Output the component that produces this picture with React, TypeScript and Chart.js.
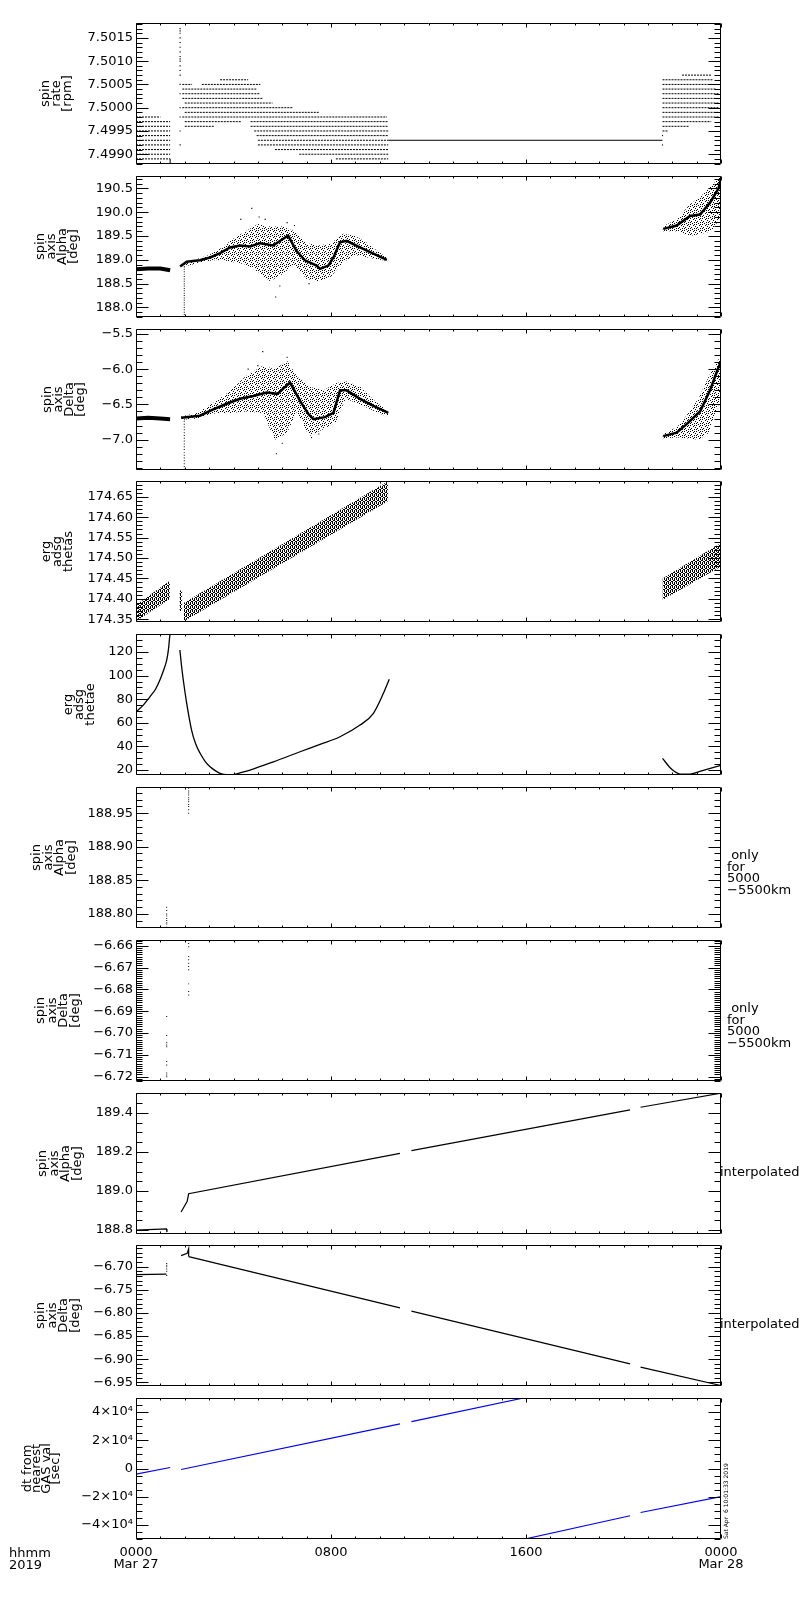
import { useEffect, useRef } from "react";
import { Chart, registerables } from "chart.js";

Chart.register(...registerables);

const FONT = "'DejaVu Sans', 'Liberation Sans', sans-serif";
Chart.defaults.font.family = FONT;
Chart.defaults.color = "#000";

type XY = [number, number];
type Row = [number, number, number]; // level, start hour, end hour
type Env = [number, number, number]; // hour, low, high
type Pt = { x: number; y: number | null };

// ---- time axis (hours after 0000 UT Mar 27 2019) ----
const xMajorHours = [0, 8, 16, 24];
const xMinorHours = [1, 2, 3, 4, 5, 6, 7, 9, 10, 11, 12, 13, 14, 15, 17, 18, 19, 20, 21, 22, 23];
const xTickLabels = [["0000", "Mar 27"], "0800", "1600", ["0000", "Mar 28"]];

// ---- panel 1: spin rate [rpm] (quantised rows) ----
const spinRateTicks = [7.499, 7.4995, 7.5, 7.5005, 7.501, 7.5015];
const spinRateLabels = ["7.4990", "7.4995", "7.5000", "7.5005", "7.5010", "7.5015"];
const spinRateRows: Row[] = [
  [7.4998, 0, 1.0], [7.4997, 0, 1.4], [7.4996, 0, 1.4], [7.4995, 0, 1.4], [7.4994, 0, 1.4],
  [7.4993, 0, 1.4], [7.4992, 0, 1.4], [7.4991, 0, 1.4], [7.499, 0, 1.4], [7.4989, 0, 1.4],
  [7.5006, 3.45, 4.6], [7.5005, 1.9, 2.3], [7.5005, 2.7, 5.1], [7.5004, 1.9, 4.95], [7.5003, 1.9, 5.1],
  [7.5002, 1.9, 5.2], [7.5001, 2.0, 5.6], [7.5, 1.9, 6.45], [7.4999, 2.0, 7.5], [7.4998, 1.9, 10.3],
  [7.4997, 2.0, 4.3], [7.4997, 4.7, 10.35], [7.4996, 2.0, 3.2], [7.4996, 4.7, 10.35], [7.4995, 4.85, 10.35],
  [7.4994, 4.95, 10.35], [7.4993, 5.0, 10.35], [7.4992, 5.0, 10.35], [7.4991, 5.7, 10.35], [7.499, 6.7, 10.35],
  [7.4989, 8.2, 10.35],
  [7.5007, 22.4, 23.6], [7.5006, 21.6, 23.65], [7.5005, 21.6, 23.65], [7.5004, 21.6, 23.8], [7.5003, 21.6, 23.9],
  [7.5002, 21.6, 23.9], [7.5001, 21.6, 23.9], [7.5, 21.6, 23.9], [7.4999, 21.6, 23.9], [7.4998, 21.6, 23.9],
  [7.4997, 21.6, 23.6], [7.4996, 21.6, 22.7], [7.4995, 21.6, 21.85],
];
const spinRateDrop: XY[] = [[1.4, 7.4989], [1.6, 7.48887], [1.8, 7.48881]];
const spinRateHold: XY[] = [[10.35, 7.4993], [21.6, 7.4993]];
const spinRateSpike = [7.4992, 7.4995, 7.4998, 7.5, 7.5003, 7.5005, 7.5007, 7.5008, 7.5009, 7.501, 7.50105,
  7.5011, 7.5012, 7.5013, 7.5014, 7.5015, 7.5016, 7.50165, 7.5017];
const spinRateRightDots = [7.4994, 7.4992];

// ---- panel 2: spin axis Alpha [deg] ----
const alphaTicks = [188.0, 188.5, 189.0, 189.5, 190.0, 190.5];
const alphaLabels = ["188.0", "188.5", "189.0", "189.5", "190.0", "190.5"];
const alphaLeft: XY[] = [[0, 188.8], [0.5, 188.82], [1.0, 188.82], [1.4, 188.78]];
const alphaCore: XY[] = [[1.81, 188.86], [2.08, 188.96], [2.62, 188.99], [3.04, 189.05], [3.45, 189.14], [3.86, 189.26],
  [4.27, 189.3], [4.68, 189.28], [5.09, 189.35], [5.63, 189.3], [6.24, 189.51], [6.58, 189.19], [6.93, 188.99],
  [7.41, 188.88], [7.55, 188.81], [7.89, 188.88], [8.1, 189.05], [8.37, 189.37], [8.64, 189.4], [9.19, 189.26],
  [9.74, 189.13], [10.29, 189.0]];
const alphaCoreRight: XY[] = [[21.63, 189.65], [22.18, 189.72], [22.73, 189.92], [23.14, 189.95], [23.55, 190.2],
  [23.9, 190.5], [24, 190.7]];
const alphaSpread: Env[] = [[1.85, 188.84, 188.9], [2.5, 188.93, 189.02], [3.0, 188.98, 189.1], [3.5, 189.0, 189.25],
  [4.0, 188.95, 189.45], [4.5, 188.9, 189.6], [5.0, 188.75, 189.75], [5.5, 188.55, 189.7], [6.0, 188.7, 189.7],
  [6.5, 188.9, 189.6], [7.0, 188.6, 189.35], [7.5, 188.55, 189.3], [8.0, 188.65, 189.35], [8.5, 188.95, 189.55],
  [9.0, 189.1, 189.5], [9.5, 189.05, 189.35], [10.0, 189.0, 189.15], [10.35, 188.97, 189.03]];
const alphaSpreadRight: Env[] = [[21.6, 189.6, 189.7], [22.2, 189.6, 189.85], [22.7, 189.5, 190.15],
  [23.2, 189.55, 190.35], [23.6, 189.6, 190.55], [24, 189.9, 190.76]];
const alphaDropout = [188.85, 188.8, 188.75, 188.7, 188.65, 188.6, 188.55, 188.5, 188.45, 188.4, 188.35, 188.3,
  188.25, 188.2, 188.15, 188.1, 188.05, 188.0, 187.95, 187.9, 187.85];
const alphaOutliers: XY[] = [[4.75, 190.08], [5.73, 188.22], [5.3, 189.85], [6.2, 189.78], [5.9, 188.45],
  [4.3, 189.85], [5.05, 189.9], [6.5, 189.72], [7.1, 188.5]];

// ---- panel 3: spin axis Delta [deg] ----
const deltaTicks = [-7.0, -6.5, -6.0, -5.5];
const deltaLabels = ["\u22127.0", "\u22126.5", "\u22126.0", "\u22125.5"];
const deltaLeft: XY[] = [[0, -6.7], [0.5, -6.69], [1.0, -6.7], [1.4, -6.71]];
const deltaCore: XY[] = [[1.85, -6.69], [2.62, -6.66], [3.17, -6.57], [3.72, -6.49], [4.27, -6.42], [4.81, -6.38],
  [5.36, -6.33], [5.8, -6.35], [6.32, -6.19], [6.73, -6.45], [7.08, -6.64], [7.28, -6.71], [7.75, -6.68],
  [8.1, -6.62], [8.37, -6.3], [8.64, -6.3], [9.19, -6.42], [9.74, -6.52], [10.35, -6.62]];
const deltaCoreRight: XY[] = [[21.63, -6.95], [22.18, -6.9], [22.59, -6.78], [22.86, -6.69], [23.14, -6.6],
  [23.55, -6.3], [23.9, -5.97], [24, -5.9]];
const deltaSpread: Env[] = [[1.85, -6.72, -6.67], [2.5, -6.7, -6.62], [3.3, -6.62, -6.45], [3.9, -6.62, -6.3],
  [4.5, -6.6, -6.1], [5.2, -6.62, -5.95], [5.7, -7.0, -6.0], [6.2, -6.9, -5.88], [6.6, -6.6, -6.1],
  [7.1, -6.95, -6.25], [7.7, -6.85, -6.3], [8.2, -6.75, -6.2], [8.6, -6.42, -6.17], [9.2, -6.5, -6.25],
  [9.8, -6.6, -6.45], [10.35, -6.68, -6.6]];
const deltaSpreadRight: Env[] = [[21.6, -6.98, -6.92], [22.2, -6.97, -6.82], [22.6, -6.98, -6.65],
  [23.1, -7.0, -6.4], [23.5, -6.9, -6.1], [24, -6.4, -5.8]];
const deltaDropout = [-6.74, -6.78, -6.82, -6.86, -6.9, -6.94, -6.98, -7.02, -7.06, -7.1, -7.14, -7.18, -7.22,
  -7.26, -7.3, -7.34, -7.38, -7.42];
const deltaOutliers: XY[] = [[5.2, -5.75], [5.76, -7.2], [6.2, -5.83], [5.0, -5.95], [6.0, -7.05], [7.2, -6.97],
  [4.6, -6.0], [7.5, -6.92]];

// ---- panel 4: erg adsg thetas ----
const thetasTicks = [174.35, 174.4, 174.45, 174.5, 174.55, 174.6, 174.65];
const thetasLabels = ["174.35", "174.40", "174.45", "174.50", "174.55", "174.60", "174.65"];
const thetasLeft: Env[] = [[0, 174.345, 174.385], [1.4, 174.4, 174.445]];
const thetasBlip: Env[] = [[1.78, 174.37, 174.42], [1.9, 174.37, 174.42]];
const thetasMain: Env[] = [[1.97, 174.345, 174.39], [10.35, 174.64, 174.689]];
const thetasRight: Env[] = [[21.6, 174.397, 174.45], [24, 174.479, 174.537]];

// ---- panel 5: erg adsg thetae ----
const thetaeTicks = [20, 40, 60, 80, 100, 120];
const thetaeLabels = ["20", "40", "60", "80", "100", "120"];
const thetaeA: XY[] = [[0, 69.4], [0.3, 75], [0.57, 82.1], [0.8, 88.5], [0.98, 96.3], [1.12, 104], [1.26, 113.2],
  [1.33, 122], [1.39, 134.4], [1.42, 138]];
const thetaeB: XY[] = [[1.8, 121.7], [1.87, 108], [1.94, 96.3], [2.08, 76.5], [2.28, 53.9], [2.45, 42], [2.63, 34.2],
  [2.85, 27], [3.04, 22.8], [3.25, 19.5], [3.45, 17.2], [3.72, 16.0], [3.99, 16.2], [4.3, 17.8], [4.68, 20],
  [5.64, 27.0], [6.73, 35.5], [7.55, 41.8], [8.37, 48.2], [9.19, 58.1], [9.74, 68.1], [10.15, 85.0], [10.39, 96.9]];
const thetaeC: XY[] = [[21.6, 29.9], [21.98, 20.6], [22.32, 16.6], [22.73, 16.5], [23.1, 18.6], [24, 24]];

// ---- panel 6: spin axis Alpha (5000-5500 km only) ----
const alphaKmTicks = [188.8, 188.85, 188.9, 188.95];
const alphaKmLabels = ["188.80", "188.85", "188.90", "188.95"];
const alphaKmEarly = [188.81, 188.805, 188.8, 188.797, 188.793, 188.79, 188.787, 188.785, 188.78];
const alphaKmLate = [188.95, 188.955, 188.96, 188.963, 188.967, 188.97, 188.973, 188.977, 188.98, 188.983, 188.987];

// ---- panel 7: spin axis Delta (5000-5500 km only) ----
const deltaKmTicks = [-6.72, -6.71, -6.7, -6.69, -6.68, -6.67, -6.66];
const deltaKmLabels = ["\u22126.72", "\u22126.71", "\u22126.70", "\u22126.69", "\u22126.68", "\u22126.67", "\u22126.66"];
const deltaKmEarly = [-6.6925, -6.7012, -6.7045, -6.7055, -6.7063, -6.7131, -6.7147, -6.7183, -6.7192, -6.72];
const deltaKmLate = [-6.659, -6.6605, -6.665, -6.6665, -6.668, -6.6695, -6.671, -6.6775, -6.681, -6.6826];

// ---- panel 8: spin axis Alpha interpolated ----
const alphaIntTicks = [188.8, 189.0, 189.2, 189.4];
const alphaIntLabels = ["188.8", "189.0", "189.2", "189.4"];
const alphaIntA: XY[] = [[0, 188.8], [1.25, 188.806], [1.27, 188.79]];
const alphaIntB: XY[] = [[1.85, 188.893], [2.1, 188.948], [2.16, 188.986], [10.83, 189.193]];
const alphaIntC: XY[] = [[11.3, 189.207], [20.27, 189.416]];
const alphaIntD: XY[] = [[20.7, 189.429], [24, 189.501]];

// ---- panel 9: spin axis Delta interpolated ----
const deltaIntTicks = [-6.95, -6.9, -6.85, -6.8, -6.75, -6.7];
const deltaIntLabels = ["\u22126.95", "\u22126.90", "\u22126.85", "\u22126.80", "\u22126.75", "\u22126.70"];
const deltaIntA: XY[] = [[0, -6.717], [1.25, -6.716]];
const deltaIntJump = [-6.693, -6.697, -6.7, -6.705, -6.71, -6.719];
const deltaIntB: XY[] = [[1.85, -6.676], [2.1, -6.671], [2.16, -6.661], [2.16, -6.678]];
const deltaIntC: XY[] = [[2.16, -6.678], [10.83, -6.789]];
const deltaIntD: XY[] = [[11.3, -6.796], [20.27, -6.91]];
const deltaIntE: XY[] = [[20.7, -6.917], [24, -6.957]];

// ---- panel 10: dt from nearest GAS val [sec] ----
const dtTicks = [-40000, -20000, 0, 20000, 40000];
const dtLabels = ["\u22124\u00d710\u2074", "\u22122\u00d710\u2074", "0", "2\u00d710\u2074", "4\u00d710\u2074"];
const dtA: XY[] = [[0, -4000], [1.4, 700]];
const dtB: XY[] = [[1.85, -700], [10.83, 31600]];
const dtC: XY[] = [[11.3, 33200], [15.9, 50000]];
const dtD: XY[] = [[15.95, -50000], [20.27, -33500]];
const dtE: XY[] = [[20.7, -31200], [24, -20000]];

// ---- layout / style ----
const PLOT_TOP0 = 23;
const PLOT_PITCH = 152.8;
const PLOT_H = 141;
const PLOT_LEFT = 136;
const PLOT_RIGHT = 721;
const PAGE_W = 800;
const PAD = 12;
const XLABEL_H = 45;
const BLACK = "#000000";
const BLUE = "#0000ff";
const stippleCells: XY[] = [[0, 0], [3, 1], [1, 3], [4, 4], [5, 2], [2, 5], [4, 0], [0, 4]];
const hatchCells: XY[] = [[0, 0], [0, 1], [0, 2], [2, 1], [2, 2], [2, 3], [1, 3], [3, 0]];

const toPts = (a: XY[]): Pt[] => a.map(([x, y]) => ({ x, y }));
const column = (h: number, vals: number[]): Pt[] => vals.map((y) => ({ x: h, y }));
const rowPts = (rows: Row[]): Pt[] =>
  rows.flatMap(([v, s, e]) => [{ x: s, y: v }, { x: e, y: v }, { x: e, y: null }]);

function line(data: Pt[], width = 1, color = BLACK, extra: Record<string, unknown> = {}) {
  return { data, borderColor: color, backgroundColor: color, borderWidth: width, pointRadius: 0, fill: false, tension: 0, ...extra };
}
function dots(data: Pt[], r = 0.8, color = BLACK) {
  return { data, showLine: false, pointRadius: r, pointStyle: "rect", pointBorderWidth: 0, pointBackgroundColor: color, borderColor: color, backgroundColor: color };
}
function band(env: Env[], pattern: CanvasPattern | string) {
  return [
    { data: env.map(([x, , hi]) => ({ x, y: hi })), borderWidth: 0, borderColor: "transparent", pointRadius: 0, fill: false },
    { data: env.map(([x, lo]) => ({ x, y: lo })), borderWidth: 0, borderColor: "transparent", pointRadius: 0, fill: "-1", backgroundColor: pattern },
  ];
}
function makePattern(cells: XY[], size: number): CanvasPattern | string {
  const c = document.createElement("canvas");
  c.width = size;
  c.height = size;
  const g = c.getContext("2d");
  if (!g) return "rgba(0,0,0,0.3)";
  g.fillStyle = BLACK;
  cells.forEach(([x, y]) => g.fillRect(x, y, 1, 1));
  return g.createPattern(c, "repeat") ?? "rgba(0,0,0,0.3)";
}

type Pats = { stipple: CanvasPattern | string; hatch: CanvasPattern | string };
type PanelSpec = {
  key: string;
  title: string[];
  titleX: number;
  titleLh: number;
  yMin: number;
  yMax: number;
  ticks: number[];
  labels: string[];
  minorStep: number;
  datasets: (p: Pats) => unknown[];
};

const panels: PanelSpec[] = [
  {
    key: "rate", title: ["spin", "rate", "[rpm]"], titleX: 46, titleLh: 11,
    yMin: 7.49879, yMax: 7.50182, ticks: spinRateTicks, labels: spinRateLabels, minorStep: 0.0001,
    datasets: () => [
      line(rowPts(spinRateRows), 1, BLACK, { borderDash: [2, 1] }),
      line(toPts(spinRateDrop), 1),
      line(toPts(spinRateHold), 1),
      dots(column(1.81, spinRateSpike)),
      dots(column(21.6, spinRateRightDots)),
    ],
  },
  {
    key: "alpha", title: ["spin", "axis", "Alpha", "[deg]"], titleX: 41, titleLh: 11,
    yMin: 187.8, yMax: 190.76, ticks: alphaTicks, labels: alphaLabels, minorStep: 0.1,
    datasets: (p) => [
      ...band(alphaSpread, p.stipple), ...band(alphaSpreadRight, p.stipple),
      line(toPts(alphaLeft), 4), line(toPts(alphaCore), 2.5), line(toPts(alphaCoreRight), 2.5),
      dots(column(1.98, alphaDropout), 0.7), dots(toPts(alphaOutliers)),
    ],
  },
  {
    key: "delta", title: ["spin", "axis", "Delta", "[deg]"], titleX: 48, titleLh: 11,
    yMin: -7.43, yMax: -5.43, ticks: deltaTicks, labels: deltaLabels, minorStep: 0.1,
    datasets: (p) => [
      ...band(deltaSpread, p.stipple), ...band(deltaSpreadRight, p.stipple),
      line(toPts(deltaLeft), 4), line(toPts(deltaCore), 2.5), line(toPts(deltaCoreRight), 2.5),
      dots(column(1.98, deltaDropout), 0.7), dots(toPts(deltaOutliers)),
    ],
  },
  {
    key: "thetas", title: ["erg", "adsg", "thetas"], titleX: 47, titleLh: 11,
    yMin: 174.343, yMax: 174.689, ticks: thetasTicks, labels: thetasLabels, minorStep: 0.01,
    datasets: (p) => [
      ...band(thetasLeft, p.hatch), ...band(thetasBlip, p.hatch),
      ...band(thetasMain, p.hatch), ...band(thetasRight, p.hatch),
    ],
  },
  {
    key: "thetae", title: ["erg", "adsg", "thetae"], titleX: 69, titleLh: 11,
    yMin: 15.8, yMax: 135.3, ticks: thetaeTicks, labels: thetaeLabels, minorStep: 5,
    datasets: () => [
      line(toPts(thetaeA), 1.3, BLACK, { cubicInterpolationMode: "monotone" }),
      line(toPts(thetaeB), 1.3, BLACK, { cubicInterpolationMode: "monotone" }),
      line(toPts(thetaeC), 1.3, BLACK, { cubicInterpolationMode: "monotone" }),
    ],
  },
  {
    key: "alphaKm", title: ["spin", "axis", "Alpha", "[deg]"], titleX: 37, titleLh: 11.5,
    yMin: 188.779, yMax: 188.989, ticks: alphaKmTicks, labels: alphaKmLabels, minorStep: 0.01,
    datasets: () => [dots(column(1.26, alphaKmEarly), 0.7), dots(column(2.16, alphaKmLate), 0.7)],
  },
  {
    key: "deltaKm", title: ["spin", "axis", "Delta", "[deg]"], titleX: 41, titleLh: 11.5,
    yMin: -6.722, yMax: -6.6574, ticks: deltaKmTicks, labels: deltaKmLabels, minorStep: 0.001,
    datasets: () => [dots(column(1.26, deltaKmEarly), 0.7), dots(column(2.16, deltaKmLate), 0.7)],
  },
  {
    key: "alphaInt", title: ["spin", "axis", "Alpha", "[deg]"], titleX: 43, titleLh: 11.5,
    yMin: 188.78, yMax: 189.502, ticks: alphaIntTicks, labels: alphaIntLabels, minorStep: 0.05,
    datasets: () => [
      line(toPts(alphaIntA), 1.2), line(toPts(alphaIntB), 1.2), line(toPts(alphaIntC), 1.2), line(toPts(alphaIntD), 1.2),
    ],
  },
  {
    key: "deltaInt", title: ["spin", "axis", "Delta", "[deg]"], titleX: 41, titleLh: 11.5,
    yMin: -6.958, yMax: -6.653, ticks: deltaIntTicks, labels: deltaIntLabels, minorStep: 0.01,
    datasets: () => [
      line(toPts(deltaIntA), 1.2), dots(column(1.26, deltaIntJump), 0.7), line(toPts(deltaIntB), 1.2),
      line(toPts(deltaIntC), 1.2), line(toPts(deltaIntD), 1.2), line(toPts(deltaIntE), 1.2),
    ],
  },
  {
    key: "dt", title: ["dt from", "nearest", "GAS val", "[sec]"], titleX: 27.5, titleLh: 9.5,
    yMin: -50000, yMax: 50000, ticks: dtTicks, labels: dtLabels, minorStep: 5000,
    datasets: () => [
      line(toPts(dtA), 1.2, BLUE), line(toPts(dtB), 1.2, BLUE), line(toPts(dtC), 1.2, BLUE),
      line(toPts(dtD), 1.2, BLUE), line(toPts(dtE), 1.2, BLUE),
    ],
  },
];

const plotTop = (i: number) => Math.round(PLOT_TOP0 + i * PLOT_PITCH);

// IDL-style box: frame plus inward ticks on all four sides
function framePlugin(majors: number[], minorStep: number) {
  return {
    id: "idlFrame",
    afterDatasetsDraw(chart: Chart) {
      const { ctx, chartArea: a } = chart;
      const xs = chart.scales.x;
      const ys = chart.scales.y;
      const L = Math.round(a.left) + 0.5;
      const R = Math.round(a.right) - 0.5;
      const T = Math.round(a.top) + 0.5;
      const B = Math.round(a.bottom) - 0.5;
      ctx.save();
      ctx.strokeStyle = BLACK;
      ctx.lineWidth = 1;
      ctx.beginPath();
      ctx.rect(L, T, R - L, B - T);
      const yTick = (v: number, len: number) => {
        const p = Math.round(ys.getPixelForValue(v)) + 0.5;
        ctx.moveTo(L, p); ctx.lineTo(L + len, p);
        ctx.moveTo(R, p); ctx.lineTo(R - len, p);
      };
      const xTick = (h: number, len: number) => {
        const p = Math.round(xs.getPixelForValue(h)) + 0.5;
        ctx.moveTo(p, T); ctx.lineTo(p, T + len);
        ctx.moveTo(p, B); ctx.lineTo(p, B - len);
      };
      const k0 = Math.ceil(ys.min / minorStep - 1e-6);
      const k1 = Math.floor(ys.max / minorStep + 1e-6);
      for (let k = k0; k <= k1; k++) yTick(k * minorStep, 6);
      majors.forEach((v) => yTick(v, 12));
      xMinorHours.forEach((h) => xTick(h, 2));
      xMajorHours.forEach((h) => xTick(h, 4));
      ctx.stroke();
      ctx.restore();
    },
  };
}

function Panel({ spec, index, last }: { spec: PanelSpec; index: number; last: boolean }) {
  const canvasRef = useRef<HTMLCanvasElement | null>(null);
  const top = plotTop(index) - PAD;
  const height = PAD + PLOT_H + (last ? XLABEL_H : PAD);

  useEffect(() => {
    if (!canvasRef.current) return;
    const pats: Pats = { stipple: makePattern(stippleCells, 6), hatch: makePattern(hatchCells, 4) };
    const chart = new Chart(canvasRef.current, {
      type: "line",
      data: { datasets: spec.datasets(pats) as any },
      options: {
        animation: false,
        responsive: false,
        devicePixelRatio: 1,
        events: [],
        layout: { padding: { top: PAD, bottom: last ? 0 : PAD, left: 0, right: PAGE_W - PLOT_RIGHT } },
        plugins: { legend: { display: false }, tooltip: { enabled: false } },
        scales: {
          x: {
            type: "linear",
            min: 0,
            max: 24,
            display: last,
            afterFit: last ? (s: any) => { s.height = XLABEL_H; } : undefined,
            afterBuildTicks: (s: any) => { s.ticks = xMajorHours.map((value) => ({ value })); },
            ticks: {
              autoSkip: false, maxRotation: 0, minRotation: 0, padding: 8, color: BLACK,
              font: { size: 13, lineHeight: "12px" },
              callback: (_v: unknown, i: number) => xTickLabels[i],
            },
            grid: { display: false, drawTicks: false },
            border: { display: false },
          },
          y: {
            type: "linear",
            min: spec.yMin,
            max: spec.yMax,
            afterFit: (s: any) => { s.width = PLOT_LEFT; },
            afterBuildTicks: (s: any) => { s.ticks = spec.ticks.map((value) => ({ value })); },
            ticks: {
              autoSkip: false, padding: 3, color: BLACK,
              font: { size: 13, lineHeight: "15px" },
              callback: (_v: unknown, i: number) => spec.labels[i],
            },
            grid: { display: false, drawTicks: false },
            border: { display: false },
            title: {
              display: true,
              text: spec.title,
              color: BLACK,
              font: { size: 13, lineHeight: `${spec.titleLh}px` },
              padding: { top: spec.titleX - spec.titleLh / 2, bottom: 0 },
            },
          },
        },
      } as any,
      plugins: [framePlugin(spec.ticks, spec.minorStep)],
    });
    return () => chart.destroy();
  }, [spec, last]);

  return (
    <canvas
      ref={canvasRef}
      width={PAGE_W}
      height={height}
      style={{ position: "absolute", left: 0, top, width: PAGE_W, height }}
    />
  );
}

const kmNote = [" only", "for", "5000", "\u22125500km"];
const interpNote = "interpolated";
const timeAxisNote = ["hhmm", "2019"];
const stamp = "Sat Apr  6 10:01:33 2019";

export default function App() {
  const text: React.CSSProperties = { position: "absolute", fontFamily: FONT, fontSize: 13, color: BLACK, whiteSpace: "pre" };
  return (
    <div style={{ position: "absolute", left: 0, top: 0, width: PAGE_W, height: 1600, background: "#fff" }}>
      {panels.map((p, i) => (
        <Panel key={p.key} spec={p} index={i} last={i === panels.length - 1} />
      ))}
      {[5, 6].map((i) => (
        <div key={`km${i}`} style={{ ...text, left: 727, top: plotTop(i) + 62, lineHeight: "11.5px" }}>
          {kmNote.join("\n")}
        </div>
      ))}
      {[7, 8].map((i) => (
        <div key={`int${i}`} style={{ ...text, left: 720, top: plotTop(i) + 72, lineHeight: "13px" }}>
          {interpNote}
        </div>
      ))}
      <div style={{ ...text, left: 9, top: plotTop(9) + PLOT_H + 8, lineHeight: "12px" }}>
        {timeAxisNote.join("\n")}
      </div>
      <div
        style={{
          ...text, fontSize: 6, lineHeight: "7px", left: 721.5, top: plotTop(9) + PLOT_H,
          transform: "rotate(-90deg)", transformOrigin: "0 0",
        }}
      >
        {stamp}
      </div>
    </div>
  );
}
